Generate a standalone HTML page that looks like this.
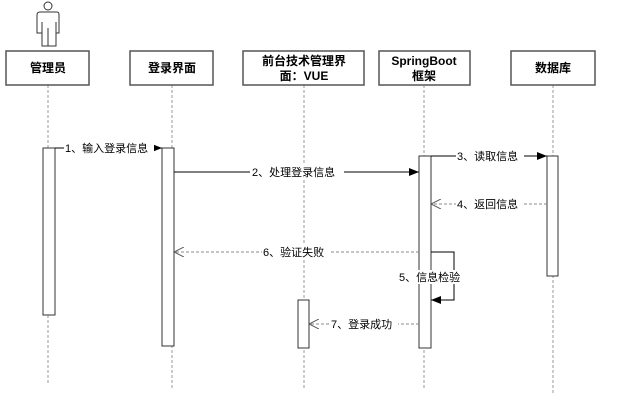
<!DOCTYPE html>
<html><head><meta charset="utf-8"><style>
body{margin:0;background:#fff}
svg text{font-family:"Liberation Sans","Noto Sans CJK SC",sans-serif;font-size:11px;fill:#000}
.b{font-weight:bold;font-size:12px}
</style></head><body>
<svg width="618" height="406" xmlns="http://www.w3.org/2000/svg">
<defs>
<marker id="f" markerWidth="10" markerHeight="8" refX="10" refY="4" orient="auto" markerUnits="userSpaceOnUse"><path d="M0,0L10,4L0,8z" fill="#000"/></marker>
<marker id="o" markerWidth="10" markerHeight="10" refX="10" refY="5" orient="auto" markerUnits="userSpaceOnUse"><path d="M0,0L10,5L0,10" fill="none" stroke="#555"/></marker>
</defs>
<!-- actor -->
<g fill="none" stroke="#333" stroke-width="1">
<circle cx="48" cy="6" r="4"/>
<path d="M40,12H57Q59,12 59,15V33H56V46H42V33H37V15Q37,12 40,12Z"/>
<path d="M48,28V46M42,22V33M56,22V33"/>
</g>
<!-- lifelines -->
<g stroke="#999" stroke-dasharray="3,2" fill="none">
<path d="M48,85V383M172,85V390M304,85V390M424,85V390M553,85V394"/>
</g>
<!-- boxes -->
<g fill="#fff" stroke="#555" stroke-width="1.5">
<rect x="6" y="51" width="83" height="34"/>
<rect x="130" y="51" width="83" height="34"/>
<rect x="243" y="51" width="121" height="34"/>
<rect x="379" y="51" width="91" height="34"/>
<rect x="511" y="51" width="84" height="34"/>
</g>
<text class="b" x="48" y="72" text-anchor="middle">管理员</text>
<text class="b" x="172" y="72" text-anchor="middle">登录界面</text>
<text class="b" x="304" y="65" text-anchor="middle">前台技术管理界</text>
<text class="b" x="304" y="80" text-anchor="middle">面：VUE</text>
<text class="b" x="424" y="65" text-anchor="middle" font-family="Liberation Mono">SpringBoot</text>
<text class="b" x="424" y="80" text-anchor="middle">框架</text>
<text class="b" x="553" y="72" text-anchor="middle">数据库</text>
<!-- activations -->
<g fill="#fff" stroke="#333" stroke-width="1">
<rect x="43" y="148" width="12" height="167"/>
<rect x="162" y="148" width="12" height="198"/>
<rect x="419" y="156" width="12" height="192"/>
<rect x="547" y="156" width="11" height="120"/>
<rect x="298" y="300" width="11" height="48"/>
</g>
<!-- messages -->
<g fill="none" stroke-width="1">
<path d="M55,148H162" stroke="#000" marker-end="url(#f)"/>
<path d="M174,172H419" stroke="#000" marker-end="url(#f)"/>
<path d="M431,156H547" stroke="#000" marker-end="url(#f)"/>
<path d="M547,204H431" stroke="#888" stroke-dasharray="3,2" marker-end="url(#o)"/>
<path d="M419,252H174" stroke="#888" stroke-dasharray="3,2" marker-end="url(#o)"/>
<path d="M431,252H454V300H431" stroke="#000" marker-end="url(#f)"/>
<path d="M419,324H309" stroke="#888" stroke-dasharray="3,2" marker-end="url(#o)"/>
</g>
<g fill="#fff">
<rect x="64" y="141" width="90" height="14"/>
<rect x="250" y="165" width="94" height="14"/>
<rect x="456" y="149" width="68" height="14"/>
<rect x="456" y="197" width="68" height="14"/>
<rect x="262" y="245" width="68" height="14"/>
<rect x="398" y="270" width="66" height="14"/>
<rect x="330" y="317" width="68" height="14"/>
</g>
<text x="65" y="152">1、输入登录信息</text>
<text x="252" y="176">2、处理登录信息</text>
<text x="457" y="160">3、读取信息</text>
<text x="457" y="208">4、返回信息</text>
<text x="263" y="256">6、验证失败</text>
<text x="399" y="281">5、信息检验</text>
<text x="331" y="328">7、登录成功</text>
</svg>
</body></html>
